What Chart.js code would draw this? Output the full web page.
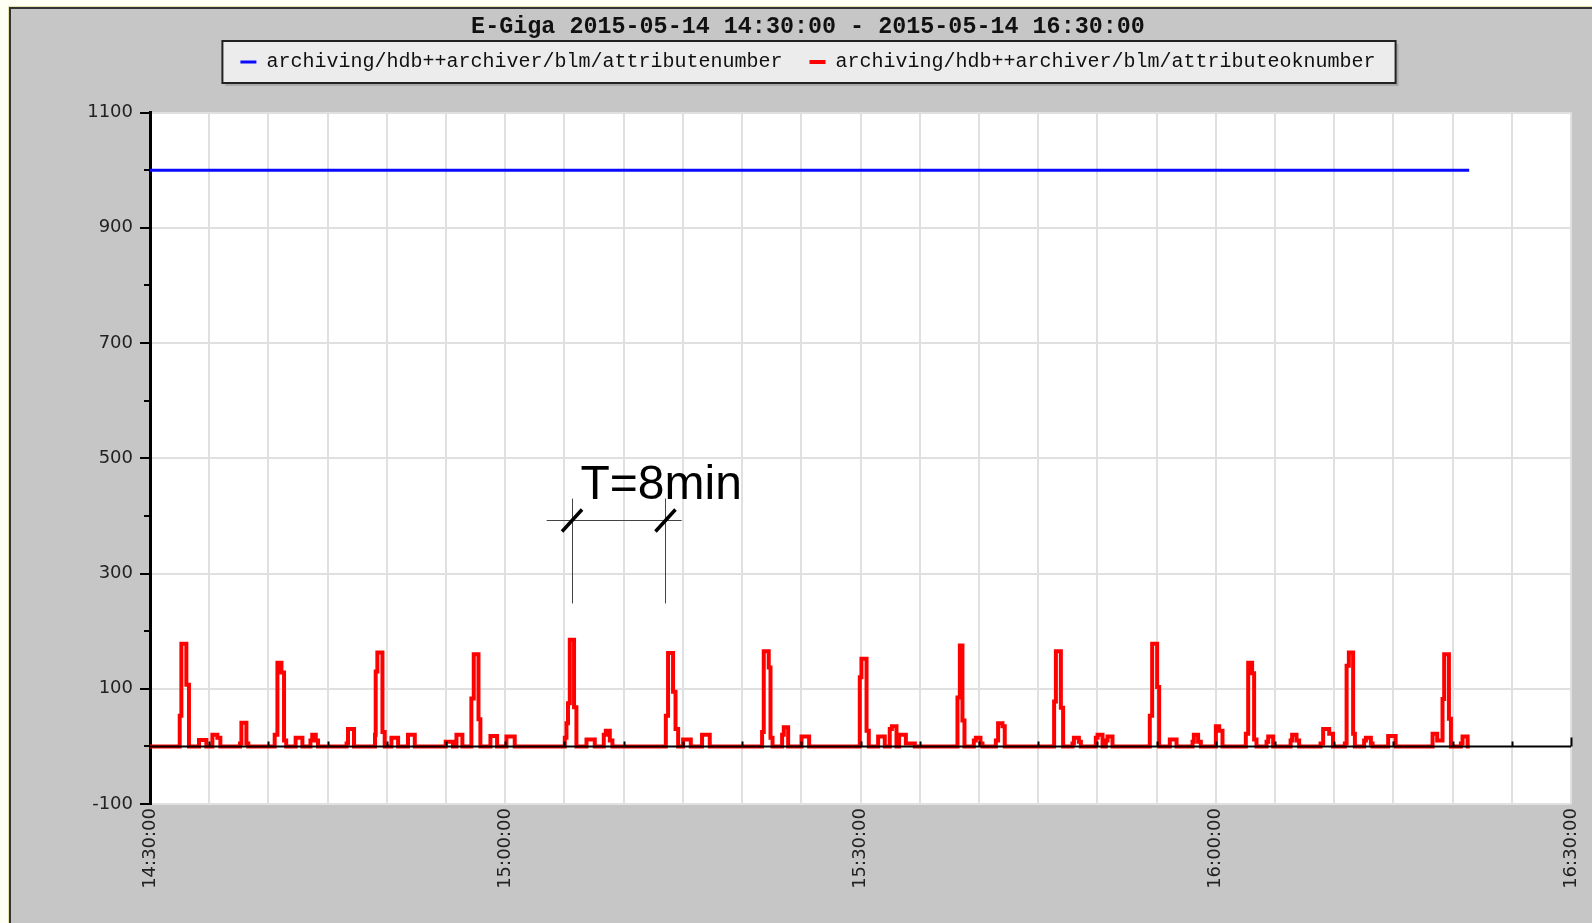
<!DOCTYPE html>
<html><head><meta charset="utf-8">
<script src="https://cdn.jsdelivr.net/npm/chart.js@4.4.0/dist/chart.umd.min.js"></script>
<style>html,body{margin:0;padding:0;background:#fff;}canvas{display:block}</style>
</head><body>
<canvas id="c" width="1592" height="923"></canvas>
<script>
const titleText = 'E-Giga 2015-05-14 14:30:00 - 2015-05-14 16:30:00';
const seriesNames = ['archiving/hdb++archiver/blm/attributenumber', 'archiving/hdb++archiver/blm/attributeoknumber'];
const startMinuteOfDay = 14 * 60 + 30;
const xLabelMinutes = [0, 30, 60, 90, 120];
const yLabelValues = [-100, 100, 300, 500, 700, 900, 1100];

// attributenumber (blue) : minutes since 14:30, value
const blueT = [0, 111.4];
const blueV = [1000, 1000];

// attributeoknumber (red) : minutes since 14:30, value (held until next point)
const redT = [0,
  2.51, 2.65, 3.07, 3.29,  4.14, 4.76,  5.27, 5.69, 5.94,  7.6, 7.72, 8.14, 8.3,
  10.53, 10.76, 11.1, 11.32, 11.5,  12.3, 12.87,  13.55, 13.7, 14.0, 14.19,  16.6, 16.72, 17.23,
  19.0, 19.06, 19.2, 19.63, 19.82,  20.39, 20.95,  21.79, 22.36,  24.97, 25.59, 25.88, 26.38,
  27.14, 27.34, 27.74, 27.9,  28.75, 29.31,  30.1, 30.8,
  35.03, 35.17, 35.3, 35.45, 35.81, 36.01,  36.86, 37.56,  38.32, 38.49, 38.83, 39.05,
  43.56, 43.75, 44.17, 44.38, 44.6,  45.02, 45.67,  46.62, 47.27,
  51.69, 51.83, 52.25, 52.4, 52.57,  53.38, 53.52, 53.89,  55.02, 55.66,
  59.94, 60.08, 60.51, 60.7,  61.49, 62.05,  62.47, 62.65, 63.04,  63.26, 63.83, 64.59,
  68.19, 68.39, 68.61, 68.78,  69.57, 69.74, 70.13, 70.3,  71.43, 71.62, 71.99, 72.18,
  76.35, 76.5, 76.92, 77.11,  77.9, 78.02, 78.44, 78.61,  79.87, 80.02, 80.44,  80.72, 80.86, 81.28,
  84.43, 84.63, 85.05, 85.22,  86.12, 86.69,  88.04, 88.15, 88.51, 88.74,  90.01, 90.29, 90.57,
  92.54, 92.74, 93.07, 93.24, 93.44,  94.29, 94.43, 94.85,  96.32, 96.45, 96.82, 97.04,
  98.85, 99.07, 99.58, 99.9,  100.9, 101.05, 101.24, 101.6, 101.75,  102.53, 102.68, 103.1, 103.24,
  104.56, 105.19,  108.31, 108.7, 109.15, 109.29, 109.69, 109.86,  110.7, 110.84, 111.27,
  111.45];
const redV = [0,
  53, 178, 107, 0,  11, 0,  20, 15, 0,  5, 41, 5, 0,
  20, 145, 128, 10, 0,  15, 0,  10, 20, 10, 0,  5, 30, 0,
  20, 130, 163, 25, 0,  15, 0,  20, 0,  8, 0, 20, 0,
  83, 160, 47, 0,  18, 0,  17, 0,
  15, 40, 75, 185, 68, 0,  12, 0,  20, 27, 10, 0,
  53, 162, 95, 30, 0,  12, 0,  20, 0,
  25, 165, 137, 15, 0,  20, 33, 0,  17, 0,
  120, 152, 27, 0,  17, 0,  30, 35, 0,  20, 5, 0,
  85, 175, 45, 0,  10, 15, 5, 0,  10, 40, 35, 0,
  78, 165, 67, 0,  5, 15, 8, 0,  15, 20, 0,  10, 17, 0,
  53, 178, 103, 0,  12, 0,  8, 20, 8, 0,  35, 27, 0,
  22, 145, 127, 12, 0,  8, 17, 0,  10, 20, 10, 0,
  5, 30, 22, 0,  5, 140, 163, 22, 0,  10, 15, 5, 0,
  18, 0,  22, 10, 82, 160, 48, 0,  5, 17, 0,
  0];

// "T=8min" period annotation (minutes, values)
const periodMarks = {text: 'T=8min', t1: 35.64, t2: 43.53, barValue: 392, lineTop: 430, lineBottom: 248,
  barFrom: 33.5, barTo: 44.9, textT: 36.35, textValue: 430};

const toPoints = (ts, vs) => ts.map((t, i) => ({x: t, y: vs[i]}));
const fmtTime = m => {
  const tot = startMinuteOfDay + m;
  const hh = Math.floor(tot / 60), mm = tot % 60;
  return String(hh).padStart(2, '0') + ':' + String(mm).padStart(2, '0') + ':00';
};

const tickFont = {family: 'DejaVu Sans', size: 18};

const framePlugin = {
  id: 'frame',
  beforeDraw(chart) {
    const ctx = chart.ctx, W = chart.width, H = chart.height;
    ctx.save();
    ctx.fillStyle = '#fffff4'; ctx.fillRect(0, 0, W, H);
    ctx.fillStyle = '#c6c6c6'; ctx.fillRect(9, 7, W - 9, H - 7);
    ctx.strokeStyle = '#e4e0b0'; ctx.lineWidth = 1;
    ctx.beginPath(); ctx.moveTo(8.5, H); ctx.lineTo(8.5, 6.5); ctx.lineTo(W, 6.5); ctx.stroke();
    ctx.strokeStyle = '#333'; ctx.lineWidth = 2;
    ctx.beginPath(); ctx.moveTo(10, H); ctx.lineTo(10, 8); ctx.lineTo(W, 8); ctx.stroke();
    const a = chart.chartArea;
    ctx.fillStyle = '#ffffff'; ctx.fillRect(a.left, a.top, a.right - a.left, a.bottom - a.top);
    // legend box
    const hb = chart.legend.legendHitBoxes;
    if (hb && hb.length) {
      const l = Math.min(...hb.map(h => h.left)) - 18;
      const r = Math.max(...hb.map(h => h.left + h.width)) + 20;
      const t = Math.min(...hb.map(h => h.top)) - 11;
      const b = Math.max(...hb.map(h => h.top + h.height)) + 11;
      ctx.fillStyle = '#a9a9a9'; ctx.fillRect(l + 3, t + 3, r - l, b - t);
      ctx.fillStyle = '#ececec'; ctx.fillRect(l, t, r - l, b - t);
      ctx.strokeStyle = '#222'; ctx.lineWidth = 2; ctx.strokeRect(l, t, r - l, b - t);
    }
    ctx.restore();
  },
  afterDatasetsDraw(chart) {
    const ctx = chart.ctx, xs = chart.scales.x, ys = chart.scales.y;
    ctx.save();
    const y0 = ys.getPixelForValue(0);
    ctx.strokeStyle = '#000'; ctx.lineWidth = 2;
    ctx.beginPath();
    ctx.moveTo(xs.getPixelForValue(xs.min), y0); ctx.lineTo(xs.getPixelForValue(xs.max), y0);
    xs.ticks.forEach(tk => {
      if (tk.value === xs.min) return;
      const x = Math.round(xs.getPixelForValue(tk.value)) + 0.5;
      const len = tk.value === xs.max ? 9 : 5;
      ctx.moveTo(x, y0); ctx.lineTo(x, y0 - len);
    });
    ctx.stroke();
    // period annotation
    const p = periodMarks;
    const x1 = xs.getPixelForValue(p.t1), x2 = xs.getPixelForValue(p.t2);
    const yb = ys.getPixelForValue(p.barValue);
    ctx.strokeStyle = '#444'; ctx.lineWidth = 1;
    ctx.beginPath();
    ctx.moveTo(Math.round(x1) + 0.5, ys.getPixelForValue(p.lineTop)); ctx.lineTo(Math.round(x1) + 0.5, ys.getPixelForValue(p.lineBottom));
    ctx.moveTo(Math.round(x2) + 0.5, ys.getPixelForValue(p.lineTop)); ctx.lineTo(Math.round(x2) + 0.5, ys.getPixelForValue(p.lineBottom));
    ctx.moveTo(xs.getPixelForValue(p.barFrom), Math.round(yb) + 0.5); ctx.lineTo(xs.getPixelForValue(p.barTo), Math.round(yb) + 0.5);
    ctx.stroke();
    ctx.strokeStyle = '#000'; ctx.lineWidth = 3.5;
    ctx.beginPath();
    [x1, x2].forEach(x => { ctx.moveTo(x - 10, yb + 11); ctx.lineTo(x + 10, yb - 11); });
    ctx.stroke();
    ctx.fillStyle = '#000';
    ctx.font = '48px "Liberation Sans", Arial, sans-serif';
    ctx.textAlign = 'left'; ctx.textBaseline = 'alphabetic';
    ctx.fillText(p.text, xs.getPixelForValue(p.textT), ys.getPixelForValue(p.textValue));
    ctx.restore();
  },
  afterDraw(chart) {
    const ctx = chart.ctx, ys = chart.scales.y;
    const left = chart.chartArea.left;
    ctx.save();
    ctx.strokeStyle = '#000'; ctx.lineWidth = 2;
    ctx.beginPath();
    ys.ticks.forEach(tk => {
      const y = Math.round(ys.getPixelForValue(tk.value));
      const len = yLabelValues.includes(tk.value) ? 10 : 6;
      ctx.moveTo(left - len, y); ctx.lineTo(left, y);
    });
    ctx.stroke();
    ctx.restore();
  }
};

new Chart(document.getElementById('c'), {
  type: 'line',
  data: {
    datasets: [
      {label: seriesNames[0], data: toPoints(blueT, blueV), borderColor: '#0a0aff', backgroundColor: '#0a0aff',
       borderWidth: 3, pointRadius: 0, stepped: true, fill: false},
      {label: seriesNames[1], data: toPoints(redT, redV), borderColor: '#ff0000', backgroundColor: '#ff0000',
       borderWidth: 4, pointRadius: 0, stepped: true, fill: false}
    ]
  },
  options: {
    responsive: false, animation: false, devicePixelRatio: 1,
    events: [],
    layout: {padding: {left: 45, right: 21, top: 0, bottom: 0}},
    plugins: {
      tooltip: {enabled: false},
      title: {display: true, text: titleText, color: '#111',
        font: {family: 'Liberation Mono', size: 23.4, weight: 'bold', lineHeight: '0px'},
        padding: {top: 27, bottom: -2}},
      legend: {display: true, position: 'top',
        labels: {usePointStyle: true, pointStyle: 'line', pointStyleWidth: 16, padding: 27, color: '#111',
          font: {family: 'Liberation Mono', size: 20}}}
    },
    scales: {
      x: {type: 'linear', min: 0, max: 120, position: 'bottom',
        afterFit: s => { s.height = 119; s.paddingRight = 0; s.paddingLeft = 0; },
        border: {display: false},
        grid: {color: '#e0e0e0', lineWidth: 2, drawTicks: false},
        ticks: {stepSize: 5, autoSkip: false, minRotation: 90, maxRotation: 90, padding: 4,
          color: '#222', font: tickFont,
          callback: v => xLabelMinutes.includes(v) ? fmtTime(v) : ''}},
      gapTop: {type: 'linear', position: 'top', axis: 'x', display: true,
        afterFit: s => { s.height = 30.5; s.paddingRight = 0; s.paddingLeft = 0; },
        border: {display: false}, grid: {display: false, drawTicks: false}, ticks: {display: false}},
      y: {type: 'linear', min: -100, max: 1100,
        afterFit: s => { s.width = 105; },
        border: {display: true, color: '#000', width: 3},
        grid: {lineWidth: 2, tickLength: 9, tickColor: 'rgba(0,0,0,0)',
          color: c => (c.tick && yLabelValues.includes(c.tick.value)) ? '#e0e0e0' : 'rgba(0,0,0,0)'},
        ticks: {stepSize: 100, padding: 8, color: '#222', font: tickFont,
          callback: v => yLabelValues.includes(v) ? String(v) : ''}}
    }
  },
  plugins: [framePlugin]
});
</script>
</body></html>
